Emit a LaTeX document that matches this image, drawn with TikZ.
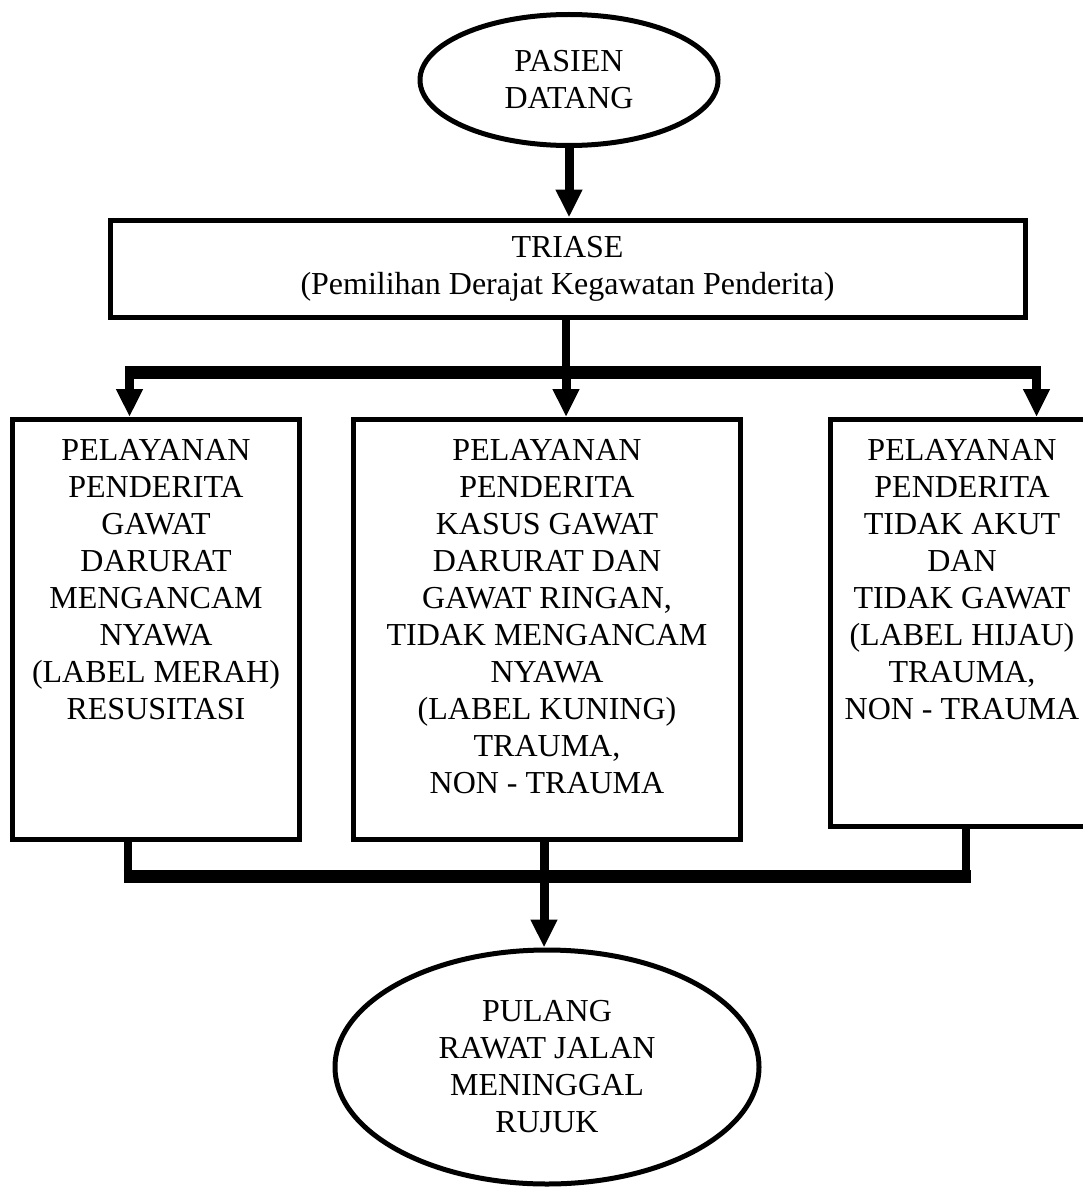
\documentclass[tikz,border=0pt]{standalone}
\usepackage{fontspec}
\setmainfont{Liberation Serif}
\usetikzlibrary{shapes.geometric,arrows.meta}
\tikzset{
    flow-text/.style = {font=\fontsize{32}{37}\selectfont},
    flow-oval/.style = {draw, ellipse, line width=5pt, inner sep=0pt, align=center, flow-text},
    flow-box/.style = {draw, rectangle, line width=5pt, inner sep=0pt, flow-text},
    flow-line/.style = {line width=8pt},
    flow-bar/.style = {line width=13pt, shorten <=-4.5pt, shorten >=-4.5pt},
    flow-arrow/.style = {line width=9pt, -{Triangle[width=25pt,length=28pt]}},
}

\begin{document}
\begin{tikzpicture}[x=1pt, y=-1pt]
\useasboundingbox (0,0) rectangle (1083,1188);

\node [flow-oval, minimum width=298pt, minimum height=131pt] (start) at (569,80) {PASIEN\\DATANG};
\node [flow-box, minimum width=915pt, minimum height=97pt, align=center] (triase) at (567.5,268.5) {TRIASE\\(Pemilihan Derajat Kegawatan Penderita)};

\node [flow-box] (merah) at (156,629.5) {\begin{minipage}[c][420pt][t]{287pt}\centering\vspace*{20pt}
    PELAYANAN\\PENDERITA\\GAWAT\\DARURAT\\MENGANCAM\\NYAWA\\(LABEL MERAH)\\RESUSITASI
\end{minipage}};
\node [flow-box] (kuning) at (547,629.5) {\begin{minipage}[c][420pt][t]{387pt}\centering\vspace*{20pt}
    PELAYANAN\\PENDERITA\\KASUS GAWAT\\DARURAT DAN\\GAWAT RINGAN,\\TIDAK MENGANCAM\\NYAWA\\(LABEL KUNING)\\TRAUMA,\\NON - TRAUMA
\end{minipage}};
\node [flow-box] (hijau) at (962,622.75) {\begin{minipage}[c][406.5pt][t]{263pt}\centering\vspace*{20pt}
    PELAYANAN\\PENDERITA\\TIDAK AKUT\\DAN\\TIDAK GAWAT\\(LABEL HIJAU)\\TRAUMA,\\NON - TRAUMA
\end{minipage}};

\node [flow-oval, minimum width=424pt, minimum height=234pt] (akhir) at (547,1067) {PULANG\\RAWAT JALAN\\MENINGGAL\\RUJUK};

% pembagian triase
\coordinate (split) at (566,372);
\coordinate (split-l) at (129.5,372);
\coordinate (split-r) at (1036.5,372);
\draw [flow-arrow] (start.south) -- (start.south |- triase.north);
\draw [flow-line] (triase.south -| split) -- (split);
\draw [flow-bar] (split-l) -- (split-r);
\draw [flow-arrow] (split-l) -- (split-l |- merah.north);
\draw [flow-arrow] (split) -- (split |- kuning.north);
\draw [flow-arrow] (split-r) -- (split-r |- hijau.north);

% penggabungan
\coordinate (merge) at (544,876.5);
\coordinate (merge-l) at (128,876.5);
\coordinate (merge-r) at (966,876.5);
\draw [flow-line] (merah.south -| merge-l) -- (merge-l);
\draw [flow-line] (hijau.south -| merge-r) -- (merge-r);
\draw [flow-bar] (merge-l) -- (merge-r);
\draw [flow-arrow] (kuning.south -| merge) -- (merge |- akhir.north);
\end{tikzpicture}
\end{document}
